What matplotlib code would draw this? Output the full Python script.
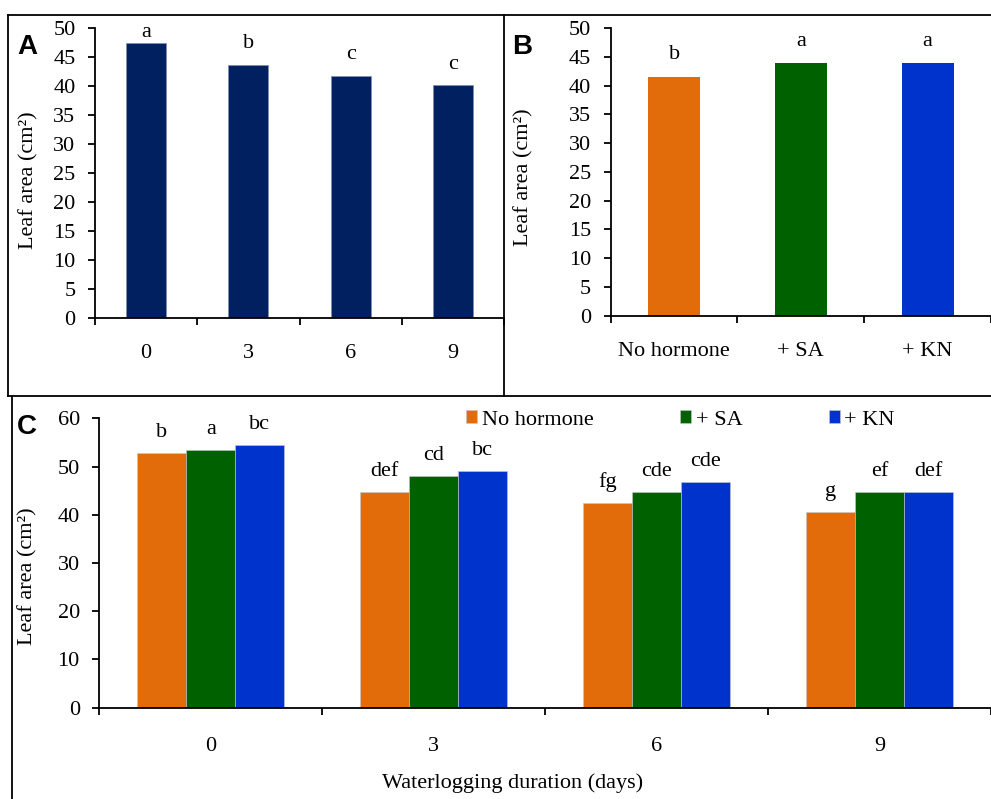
import matplotlib
matplotlib.use("Agg")
import matplotlib.pyplot as plt
import numpy as np
from matplotlib.lines import Line2D

plt.rcParams['font.family'] = ['Liberation Serif', 'DejaVu Serif']

# ---- data ----
durations = ["0", "3", "6", "9"]
a_values = [47.4, 43.7, 41.8, 40.2]
a_letters = ["a", "b", "c", "c"]

treatments = ["No hormone", "+ SA", "+ KN"]
b_values = [41.5, 43.9, 43.9]
b_letters = ["b", "a", "a"]

c_no_hormone = [52.8, 44.8, 42.5, 40.6]
c_sa = [53.4, 48.0, 44.8, 44.8]
c_kn = [54.4, 49.0, 46.7, 44.8]
c_letters_no = ["b", "def", "fg", "g"]
c_letters_sa = ["a", "cd", "cde", "ef"]
c_letters_kn = ["bc", "bc", "cde", "def"]

NAVY = "#002060"
ORANGE = "#E36C0A"
GREEN = "#006100"
BLUE = "#0033CC"

FS = 16
W, H = 991, 799
fig = plt.figure(figsize=(W / 100, H / 100), dpi=100)


def ax_rect(left, right, top, bottom):
    return [left / W, 1 - bottom / H, (right - left) / W, (bottom - top) / H]


def style_axes(ax, ncat, xmax, yticks):
    for s in ["top", "right"]:
        ax.spines[s].set_visible(False)
    for s in ["left", "bottom"]:
        ax.spines[s].set_linewidth(1.3)
        ax.spines[s].set_color("black")
    ax.set_xlim(-0.5, xmax)
    ax.set_xticks(np.arange(ncat))
    ax.set_xticks(np.arange(ncat + 1) - 0.5, minor=True)
    ax.tick_params(axis="x", which="major", length=0, pad=19, labelsize=FS)
    ax.tick_params(axis="x", which="minor", length=5, width=1.3, direction="out")
    ax.set_yticks(yticks)
    ax.tick_params(axis="y", length=5, width=1.3, direction="out", labelsize=FS, pad=9)
    ax.set_ylabel("Leaf area (cm²)", fontsize=FS)


# ---- Panel A ----
axA = fig.add_axes(ax_rect(95, 504, 28, 318))
xA = np.arange(len(durations))
axA.bar(xA, a_values, width=0.39, color=NAVY, edgecolor="#8090b0", linewidth=0.5)
axA.set_ylim(0, 50)
style_axes(axA, len(durations), 3.5, np.arange(0, 51, 5))
axA.set_xticklabels(durations)
for x, v, t, off in zip(xA, a_values, a_letters, [1, 8, 8, 8]):
    axA.annotate(t, (x, v), xytext=(0, off), textcoords="offset points",
                 ha="center", va="bottom", fontsize=FS)
axA.yaxis.set_label_coords(-0.139, 0.476)

# ---- Panel B ----
axB = fig.add_axes(ax_rect(610.7, 991, 28, 315.7))
xB = np.arange(len(treatments))
axB.bar(xB, b_values, width=0.41, color=[ORANGE, GREEN, BLUE])
axB.set_ylim(0, 50)
style_axes(axB, len(treatments), -0.5 + (991 - 610.7) / 130.0, np.arange(0, 51, 5))
axB.set_xticklabels(treatments)
for x, v, t in zip(xB, b_values, b_letters):
    axB.annotate(t, (x, v), xytext=(0, 9), textcoords="offset points",
                 ha="center", va="bottom", fontsize=FS)
axB.yaxis.set_label_coords(-0.204, 0.48)

# ---- Panel C ----
axC = fig.add_axes(ax_rect(99.3, 991, 418.3, 707.7))
xC = np.arange(len(durations))
bw = 0.22
series = [(c_no_hormone, ORANGE, "No hormone", c_letters_no, -bw),
          (c_sa, GREEN, "+ SA", c_letters_sa, 0.0),
          (c_kn, BLUE, "+ KN", c_letters_kn, bw)]
for vals, col, lab, lets, off in series:
    axC.bar(xC + off, vals, width=bw, color=col, label=lab,
            edgecolor="#c8c8c8", linewidth=0.4)
    for x, v, t in zip(xC + off, vals, lets):
        axC.annotate(t, (x, v), xytext=(0, 8), textcoords="offset points",
                     ha="center", va="bottom", fontsize=FS)
axC.set_ylim(0, 60)
style_axes(axC, len(durations), -0.5 + (991 - 99.3) / 225.7, np.arange(0, 61, 10))
axC.tick_params(axis="x", which="major", pad=21)
axC.set_xticklabels(durations)
axC.yaxis.set_label_coords(-0.069, 0.455)
leg = axC.legend(ncol=3, loc="center left",
                 bbox_to_anchor=((466 - 99.3) / (991 - 99.3), 0.994),
                 frameon=False, fontsize=FS, handlelength=0.5, handleheight=0.5,
                 handletextpad=0.2, columnspacing=3.9, borderpad=0, borderaxespad=0)
fig.text(513 / W, 1 - 783 / H, "Waterlogging duration (days)", ha="center", va="center", fontsize=FS)

# ---- panel letters ----
for lab, x, y in [("A", 27, 47), ("B", 522, 47), ("C", 27, 427)]:
    fig.text(x / W, 1 - y / H, lab, ha="center", va="center", fontsize=20,
             fontweight="bold", family="Liberation Sans")

# ---- frames ----
def fline(x0, y0, x1, y1):
    fig.add_artist(Line2D([x0 / W, x1 / W], [1 - y0 / H, 1 - y1 / H],
                          color="black", linewidth=1.3, transform=fig.transFigure))

fline(8, 15, 991, 15)
fline(8, 15, 8, 396)
fline(503.5, 15, 503.5, 396)
fline(8, 396, 991, 396)
fline(12, 396, 12, 799)

fig.savefig("out.png", dpi=100)
